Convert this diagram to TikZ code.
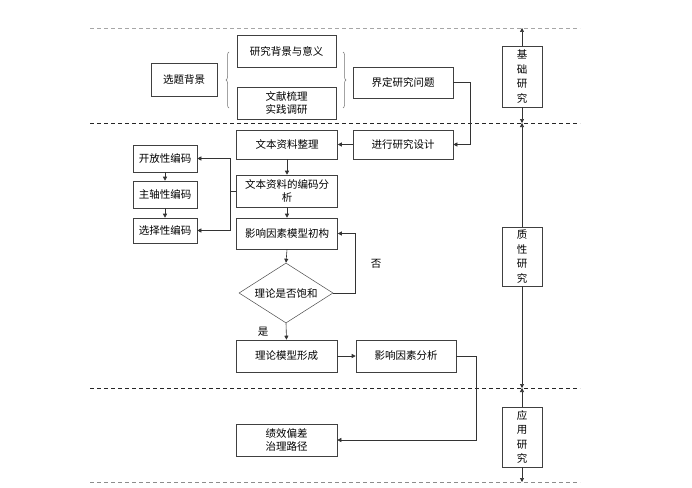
\documentclass[tikz,border=0pt]{standalone}
\usepackage{fontspec}
\newfontfamily\cjk{Noto Sans CJK SC}
\usetikzlibrary{arrows.meta,shapes.geometric,decorations.pathreplacing}
\begin{document}
\begin{tikzpicture}[x=1pt,y=-1pt,
  box/.style={draw=black!75, line width=0.6pt, fill=white, inner sep=0pt, align=center,
    font=\cjk\fontsize{10.5}{13}\selectfont},
  vbox/.style={box, font=\cjk\fontsize{10.5}{14.5}\selectfont, minimum width=40pt},
  arr/.style={draw=black!80, line width=0.6pt, -{Triangle[length=4pt,width=4pt]}},
  ln/.style={draw=black!80, line width=0.6pt},
  sep/.style={line width=0.6pt, dash pattern=on 4pt off 3pt},
  lbl/.style={font=\cjk\fontsize{10.5}{13}\selectfont, inner sep=0pt},
  brc/.style={draw=black!55, line width=0.5pt, decorate, decoration={brace,amplitude=3pt}}]
\useasboundingbox (0,0) rectangle (692,487);
\fill[white] (0,0) rectangle (692,487);

% separators
\coordinate (s1a) at (90,28);  \coordinate (s1b) at (580,28);
\coordinate (s2a) at (90,123); \coordinate (s2b) at (580,123);
\coordinate (s3a) at (90,388); \coordinate (s3b) at (580,388);
\coordinate (s4a) at (90,482); \coordinate (s4b) at (580,482);
\draw[sep, draw=black!35] (s1a) -- (s1b);
\draw[sep, draw=black!85] (s2a) -- (s2b);
\draw[sep, draw=black!85] (s3a) -- (s3b);
\draw[sep, draw=black!45] (s4a) -- (s4b);

% left / middle nodes
\node[box, minimum width=66pt, minimum height=33pt] (xt) at (184,79.5) {选题背景};
\node[box, minimum width=99pt, minimum height=32pt] (yj) at (286.5,51) {研究背景与意义};
\node[box, minimum width=99pt, minimum height=32pt] (wx) at (286.5,103) {文献梳理\\实践调研};
\node[box, minimum width=100pt, minimum height=31pt] (jd) at (403,82.5) {界定研究问题};
\node[box, minimum width=100pt, minimum height=29pt] (sj) at (403,144.5) {进行研究设计};
\node[box, minimum width=101pt, minimum height=29pt] (zl) at (287,144.5) {文本资料整理};
\node[box, minimum width=101pt, minimum height=32pt] (bm) at (287,191) {文本资料的编码分\\析};
\node[box, minimum width=101pt, minimum height=31pt] (cg) at (287,233.5) {影响因素模型初构};
\node[box, minimum width=64pt, minimum height=27pt] (kf) at (165,158.5) {开放性编码};
\node[box, minimum width=64pt, minimum height=27pt] (zz) at (165,194.5) {主轴性编码};
\node[box, minimum width=64pt, minimum height=25pt] (xz) at (165,230.5) {选择性编码};
\node[diamond, shape aspect=1.57, draw=black!70, line width=0.5pt, fill=white, inner sep=0pt,
      minimum width=94pt, minimum height=60pt,
      font=\cjk\fontsize{10.5}{13}\selectfont] (dm) at (286,293) {理论是否饱和};
\node[box, minimum width=101pt, minimum height=32pt] (lx) at (286.5,356) {理论模型形成};
\node[box, minimum width=100pt, minimum height=32pt] (fx) at (406,356) {影响因素分析};
\node[box, minimum width=101pt, minimum height=32pt] (jx) at (286.5,440) {绩效偏差\\治理路径};

% right column
\node[vbox, minimum height=61pt] (jc) at (522,76.5) {基\\础\\研\\究};
\node[vbox, minimum height=59pt] (zx) at (522,256.5) {质\\性\\研\\究};
\node[vbox, minimum height=60pt] (yy) at (522,437) {应\\用\\研\\究};

\coordinate (r1) at (522,28);
\coordinate (r2) at (522,123);
\coordinate (r3) at (522,388);
\coordinate (r4) at (522,482);
\draw[arr] (jc.north) -- (r1);
\draw[arr] (jc.south) -- (r2);
\draw[arr] (zx.north) -- (r2);
\draw[arr] (zx.south) -- (r3);
\draw[arr] (yy.north) -- (r3);
\draw[arr] (yy.south) -- (r4);

% braces
\coordinate (b1a) at (229,108); \coordinate (b1b) at (229,52);
\coordinate (b2a) at (343,52);  \coordinate (b2b) at (343,108);
\draw[brc] (b1a) -- (b1b);
\draw[brc] (b2a) -- (b2b);

% connectors
\draw[arr] (jd.east) -- ++(17,0) |- (sj.east);
\draw[arr] (sj.west) -- (zl.east);
\draw[arr] (zl.south) -- (bm.north);
\draw[arr] (bm.south) -- (cg.north);
\coordinate (br) at (230,191);
\draw[ln] (bm.west) -- (br);
\draw[arr] (br) |- (kf.east);
\draw[arr] (br) |- (xz.east);
\draw[arr] (kf.south) -- (zz.north);
\draw[arr] (zz.south) -- (xz.north);
\draw[arr] (cg.south) -- (dm.north);
\draw[arr] (dm.east) -- ++(22,0) |- (cg.east);
\draw[arr] (dm.south) -- (lx.north);
\draw[arr] (lx.east) -- (fx.west);
\draw[arr] (fx.east) -- ++(20,0) |- (jx.east);

\node[lbl] (no) at (376,264) {否};
\node[lbl] (yes) at (263,332) {是};
\end{tikzpicture}
\end{document}
